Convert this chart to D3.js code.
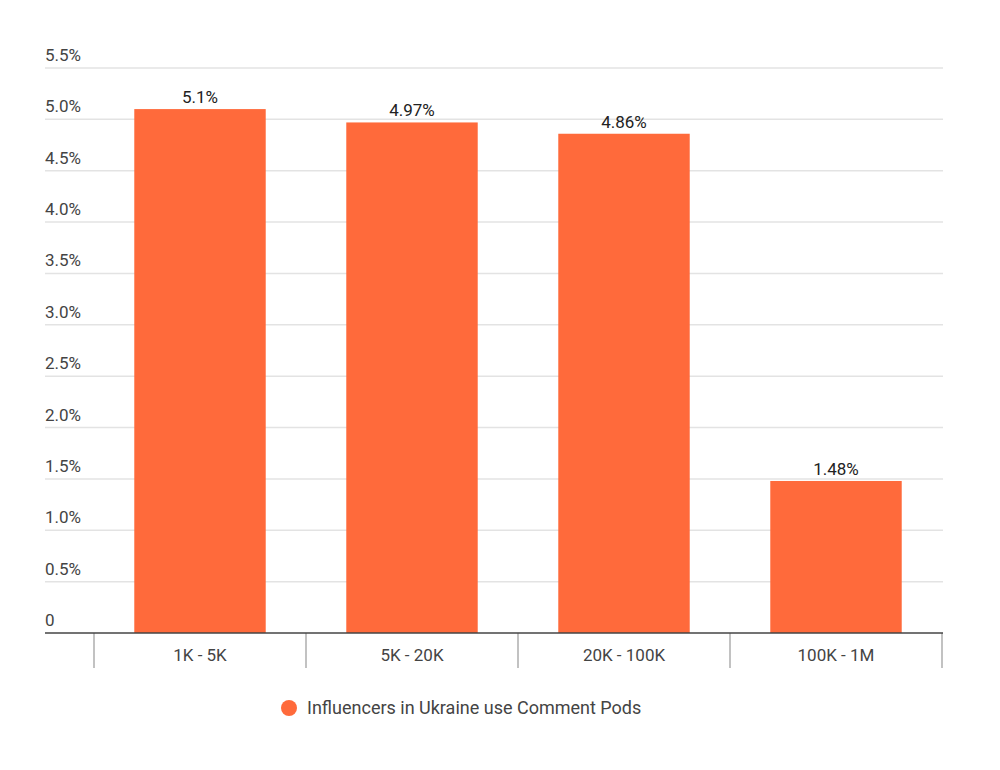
<!DOCTYPE html>
<html><head><meta charset="utf-8">
<script src="https://cdn.jsdelivr.net/npm/d3@7"></script>
<style>body{margin:0;background:#fff;font-family:Roboto,sans-serif}</style>
</head><body><svg id="c" width="1000" height="770"></svg>
<script>
const categories = ["1K - 5K","5K - 20K","20K - 100K","100K - 1M"];
const values = [5.1, 4.97, 4.86, 1.48];
const valueLabels = ["5.1%","4.97%","4.86%","1.48%"];
const yTicks = [0,0.5,1,1.5,2,2.5,3,3.5,4,4.5,5,5.5];
const seriesName = "Influencers in Ukraine use Comment Pods";
const color = "#ff6a3b";

const svg = d3.select("#c");
const x = d3.scaleBand().domain(categories).range([94,942]).paddingInner(0.38).paddingOuter(0.19);
const y = d3.scaleLinear().domain([0,5.5]).range([633,68]);

svg.append("g").selectAll("line").data(yTicks.slice(1)).join("line")
  .attr("x1",45).attr("x2",943).attr("y1",d=>y(d)).attr("y2",d=>y(d))
  .attr("stroke","#e3e3e3").attr("stroke-width",1.5);
svg.append("g").selectAll("text").data(yTicks).join("text")
  .attr("x",45).attr("y",d=>y(d)-7).attr("font-size",17).attr("fill","#444")
  .text(d=>d===0?"0":d.toFixed(1)+"%");

svg.append("g").selectAll("rect").data(values).join("rect")
  .attr("x",(d,i)=>x(categories[i])).attr("width",x.bandwidth())
  .attr("y",d=>y(d)).attr("height",d=>y(0)-y(d)).attr("fill",color);

svg.append("g").selectAll("text").data(values).join("text")
  .attr("x",(d,i)=>x(categories[i])+x.bandwidth()/2).attr("y",d=>y(d)-6)
  .attr("text-anchor","middle").attr("font-size",17).attr("fill","#222")
  .text((d,i)=>valueLabels[i]);

const bounds = [94,306,518,730,942];
svg.append("g").selectAll("line").data(x.step? d3.range(categories.length+1):[]).join("line")
  .attr("x1",i=>x.range()[0]+i*x.step()).attr("x2",i=>x.range()[0]+i*x.step())
  .attr("y1",633).attr("y2",668).attr("stroke","#999").attr("stroke-width",1.2);
svg.append("line").attr("x1",45).attr("x2",943).attr("y1",633).attr("y2",633)
  .attr("stroke","#444").attr("stroke-width",1.5);
svg.append("g").selectAll("text").data(categories).join("text")
  .attr("x",d=>x(d)+x.bandwidth()/2).attr("y",661).attr("text-anchor","middle")
  .attr("font-size",17).attr("fill","#444").text(d=>d);

svg.append("circle").attr("cx",289).attr("cy",708).attr("r",8).attr("fill",color);
svg.append("text").attr("x",307).attr("y",714).attr("font-size",18).attr("fill","#444").text(seriesName);
</script></body></html>
